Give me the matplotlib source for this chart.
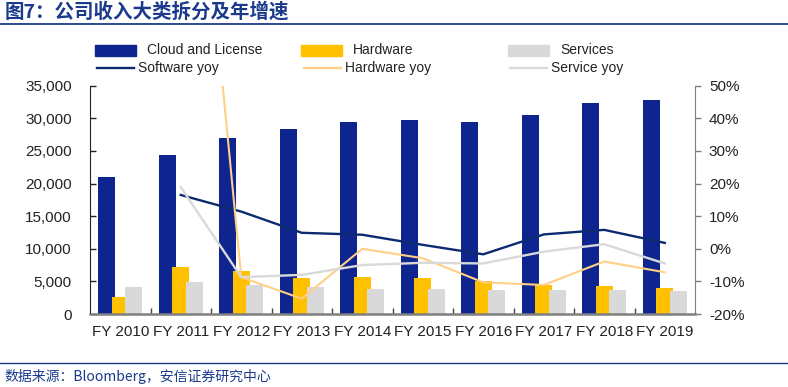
import numpy as np
import matplotlib
matplotlib.use('Agg')
import matplotlib.pyplot as plt
from matplotlib.patches import Rectangle
from matplotlib.lines import Line2D
from matplotlib.ticker import FuncFormatter, FixedLocator

plt.rcParams['font.family'] = ['Liberation Sans', 'Noto Sans CJK SC', 'DejaVu Sans']

# data (USD mn)
years = ['FY 2010', 'FY 2011', 'FY 2012', 'FY 2013', 'FY 2014',
         'FY 2015', 'FY 2016', 'FY 2017', 'FY 2018', 'FY 2019']
cloud = [20990, 24360, 26910, 28350, 29470, 29730, 29370, 30500, 32290, 32850]
hardware = [2560, 7250, 6540, 5570, 5720, 5470, 5010, 4450, 4290, 4040]
services = [4190, 4900, 4450, 4140, 3880, 3780, 3680, 3680, 3680, 3530]

# yoy growth in %, FY 2011 onwards
software_yoy = [16.5, 11.4, 4.9, 4.3, 1.2, -1.7, 4.4, 5.8, 1.8]
hardware_yoy = [183.0, -8.7, -15.3, 0.0, -2.9, -10.3, -11.1, -3.9, -7.2]
service_yoy = [18.9, -8.7, -8.0, -5.0, -4.3, -4.5, -0.9, 1.4, -4.5]

c_cloud = '#0E2590'
c_hw = '#FFC000'
c_sv = '#D9D9D9'
c_swl = '#0B2A6F'
c_hwl = '#FFCF85'
c_svl = '#D9D9D9'
navy = '#1B3A8C'

W, H = 788, 387
fig = plt.figure(figsize=(W / 100, H / 100), dpi=100)

def fx(px):
    return px / W

def fy(py):
    return 1 - py / H

ax = fig.add_axes([fx(90), fy(314), (695 - 90) / W, (314 - 85.7) / H])
x = np.arange(len(years))
bw = 0.28
ax.bar(x - 0.225, cloud, bw, color=c_cloud, zorder=2)
ax.bar(x, hardware, bw, color=c_hw, zorder=3)
ax.bar(x + 0.225, services, bw, color=c_sv, zorder=4)

ax.set_xlim(-0.5, len(years) - 0.5)
ax.set_ylim(0, 35000)
ax.set_yticks(np.arange(0, 35001, 5000))
ax.yaxis.set_major_formatter(FuncFormatter(lambda v, p: '{:,.0f}'.format(v)))
ax.set_xticks(x)
ax.set_xticklabels(years)
ax.xaxis.set_minor_locator(FixedLocator(x[:-1] + 0.5))
ax.tick_params(axis='x', which='major', length=0, pad=8, labelsize=11, colors='#222222')
ax.tick_params(axis='x', which='minor', direction='in', length=4, width=1, color='#444444')
ax.tick_params(axis='y', direction='in', length=4, width=1, pad=13, labelsize=11,
               colors='#222222')
ax.spines['top'].set_visible(False)
ax.spines['right'].set_visible(False)
ax.spines['left'].set_color('#222222')
ax.spines['bottom'].set_color('#7F7F7F')
ax.spines['bottom'].set_linewidth(1.8)
ax.spines['bottom'].set_zorder(5)

ax2 = ax.twinx()
xl = x[1:]
ax2.plot(xl, software_yoy, color=c_swl, lw=1.7)
ax2.plot(xl, hardware_yoy, color=c_hwl, lw=1.5)
ax2.plot(xl, service_yoy, color=c_svl, lw=1.7)
ax2.set_ylim(-20, 50)
ax2.set_yticks(np.arange(-20, 51, 10))
ax2.yaxis.set_major_formatter(FuncFormatter(lambda v, p: '{:.0f}%'.format(v)))
ax2.tick_params(axis='y', direction='out', length=4, width=1, pad=6, labelsize=11,
                colors='#222222', color='#7F7F7F')
for s in ['top', 'left', 'bottom']:
    ax2.spines[s].set_visible(False)
ax2.spines['right'].set_color('#7F7F7F')

# legend (two rows, three columns)
rows1 = [(95, c_cloud, 'Cloud and License'), (301, c_hw, 'Hardware'), (508, c_sv, 'Services')]
for px, col, lab in rows1:
    fig.patches.append(Rectangle((fx(px), fy(55.5)), 41 / W, 10.5 / H,
                                 transform=fig.transFigure, color=col))
    fig.text(fx(px + 52), fy(50), lab, fontsize=10, va='center', ha='left', color='#222222')
rows2 = [(97, c_swl, 'Software yoy'), (304, c_hwl, 'Hardware yoy'), (510, c_svl, 'Service yoy')]
for px, col, lab in rows2:
    fig.lines.append(Line2D([fx(px), fx(px + 37)], [fy(67.7), fy(67.7)],
                            transform=fig.transFigure, color=col, lw=1.7))
    fig.text(fx(px + 41), fy(68), lab, fontsize=10, va='center', ha='left', color='#222222')

# title and source
fig.text(fx(5), fy(12), '图7：公司收入大类拆分及年增速', fontsize=14, fontweight='bold',
         color=navy, va='center', ha='left', family=['Noto Sans CJK SC', 'DejaVu Sans'])
fig.lines.append(Line2D([0, 1], [fy(23.5), fy(23.5)], transform=fig.transFigure,
                        color=navy, lw=1.3))
fig.lines.append(Line2D([0, 1], [fy(363), fy(363)], transform=fig.transFigure,
                        color=navy, lw=1.0))
fig.text(fx(4), fy(376), '数据来源：Bloomberg，安信证券研究中心', fontsize=10, style='italic',
         color=navy, va='center', ha='left', family=['Noto Sans CJK SC', 'DejaVu Sans'])

fig.savefig('out.png', dpi=100)
